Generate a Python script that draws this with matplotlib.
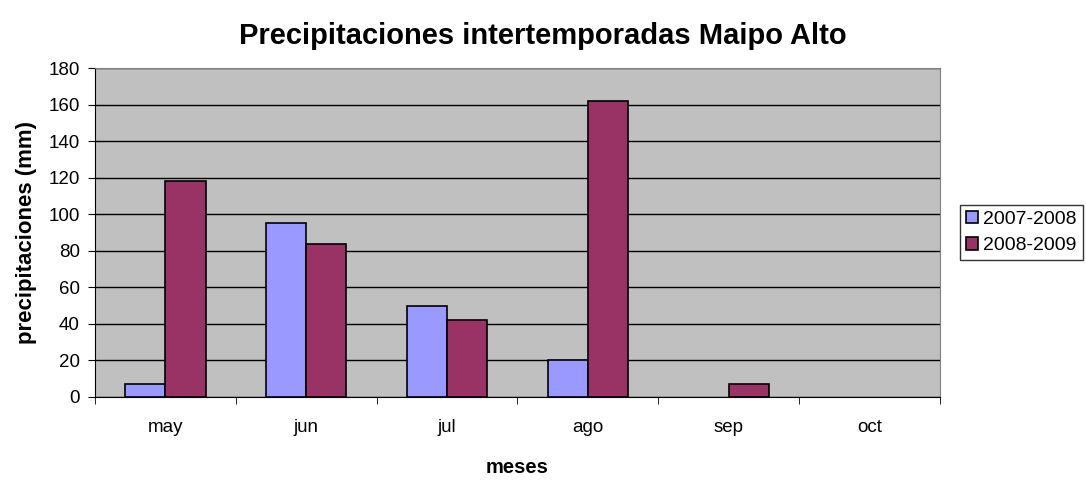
import numpy as np
import matplotlib
matplotlib.use("Agg")
import matplotlib.pyplot as plt

plt.rcParams["font.family"] = ["Liberation Sans", "DejaVu Sans"]

meses = ["may", "jun", "jul", "ago", "sep", "oct"]
serie_2007 = [7, 95, 50, 20, 0, 0]
serie_2008 = [118, 84, 42, 162, 7, 0]
etiquetas = ["2007-2008", "2008-2009"]

fig = plt.figure(figsize=(10.86, 4.8), dpi=100)
ax = fig.add_axes([0.0875, 0.173, 0.778, 0.685])
ax.set_facecolor("#C0C0C0")

x = np.arange(len(meses))
w = 1 / 3.5
for vals, off, col, lab in [(serie_2007, -w / 2, "#9999FF", etiquetas[0]),
                            (serie_2008, w / 2, "#993366", etiquetas[1])]:
    bars = ax.bar(x + off, vals, w, color=col, edgecolor="black", linewidth=1.2,
                  label=lab, zorder=3)
    # Excel does not draw empty bars
    for b, v in zip(bars, vals):
        if v == 0:
            b.set_visible(False)

ax.set_xlim(-0.5, len(meses) - 0.5)
ax.set_ylim(0, 180)
ax.set_yticks(range(0, 181, 20))
ax.yaxis.grid(True, color="black", linewidth=1, zorder=1)
ax.set_axisbelow(True)

ax.set_xticks(x)
ax.set_xticklabels(meses, fontsize=13.5)
ax.set_xticks(np.arange(-0.5, len(meses)), minor=True)
ax.tick_params(axis="x", which="major", length=0, pad=16)
ax.tick_params(axis="x", which="minor", length=5, direction="out")
ax.tick_params(axis="y", labelsize=13.5, length=5, direction="out", pad=6)

for s in ["top", "right"]:
    ax.spines[s].set_color("#808080")
for s in ["left", "bottom"]:
    ax.spines[s].set_color("black")

ax.set_xlabel("meses", fontsize=14.5, fontweight="bold", labelpad=16)
ax.set_ylabel("precipitaciones (mm)", fontsize=16, fontweight="bold", labelpad=8)
fig.suptitle("Precipitaciones intertemporadas Maipo Alto", fontsize=21,
             fontweight="bold", x=0.5, y=0.955)

leg = ax.legend(loc="center left", bbox_to_anchor=(1.017, 0.5), fontsize=14,
                frameon=True, fancybox=False, handlelength=0.6, handleheight=0.6,
                borderpad=0.3, labelspacing=0.5, handletextpad=0.3,
                borderaxespad=0.3)
leg.get_frame().set_edgecolor("black")
leg.get_frame().set_linewidth(1)

fig.savefig("out.png", dpi=100)
